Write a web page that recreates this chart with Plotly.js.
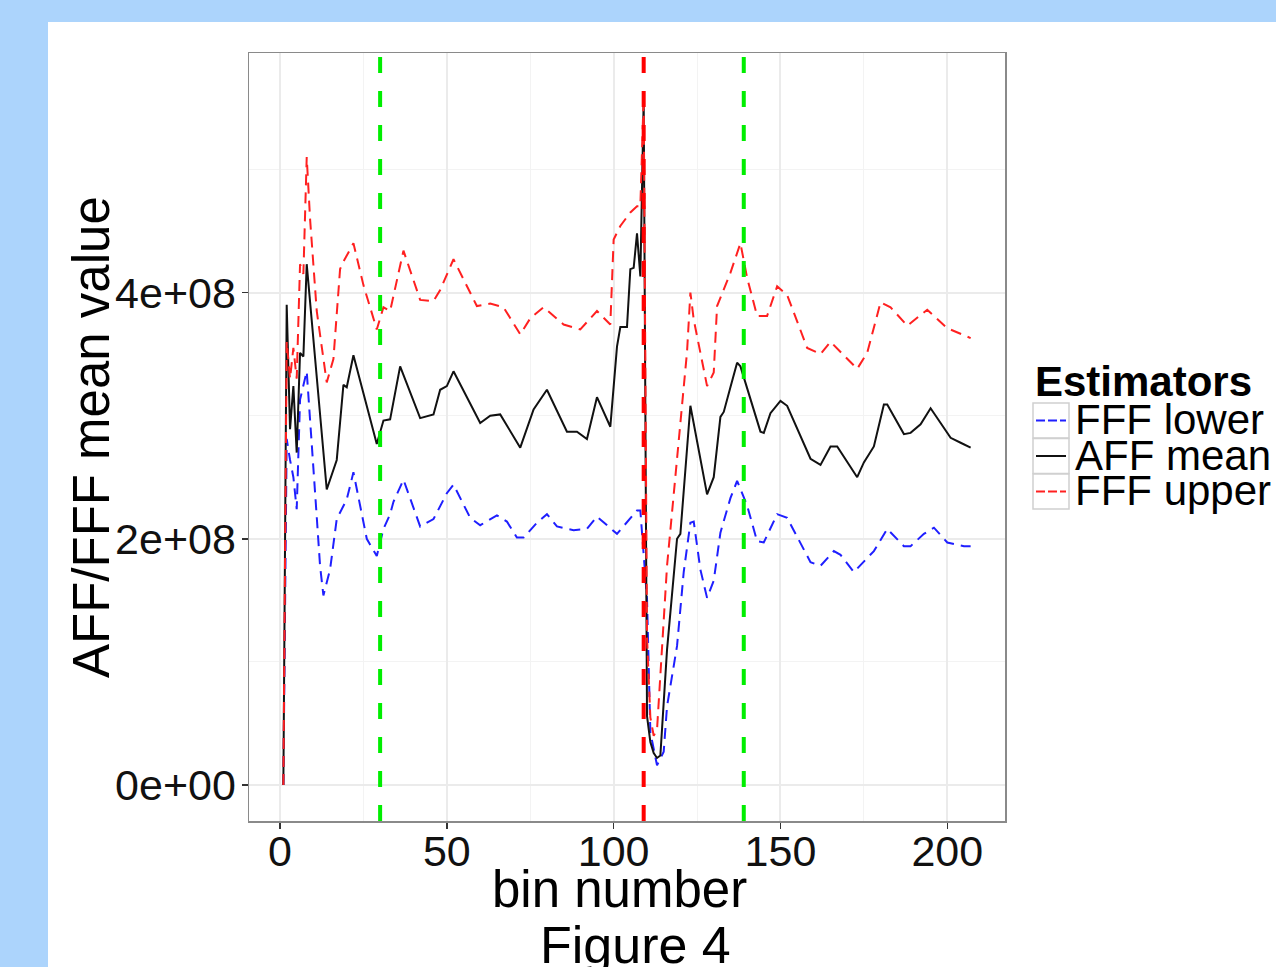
<!DOCTYPE html>
<html><head><meta charset="utf-8">
<script src="https://cdn.plot.ly/plotly-3.0.1.min.js"></script>
<style>
html,body{margin:0;padding:0;background:#acd4fc;width:1276px;height:967px;overflow:hidden}
#chart{position:absolute;left:48px;top:22px;width:1228px;height:945px;background:#fff}
</style></head><body><div id="chart"></div>
<script>
// ---- data ----
const meanBins = [1,2,3,4,5,6,7,8,14,17,19,20,22,29,31,33,36,42,46,48,50,52,60,63,66,72,76,80,86,89,92,95,99,101,102,104,105,106,107,108,109,110,111,112,113,114,116,119,120,123,128,130,132,133,135,137,138,144,145,147,150,152,159,162,165,167,173,175,178,181,182,187,189,192,195,201,204,207];
const meanVals = [0,3.90e8,2.89e8,3.24e8,2.70e8,3.51e8,3.48e8,4.23e8,2.40e8,2.64e8,3.25e8,3.23e8,3.49e8,2.77e8,2.96e8,2.97e8,3.40e8,2.98e8,3.01e8,3.21e8,3.24e8,3.36e8,2.94e8,3.00e8,3.01e8,2.74e8,3.05e8,3.21e8,2.87e8,2.87e8,2.81e8,3.15e8,2.91e8,3.56e8,3.72e8,3.72e8,4.19e8,4.20e8,4.48e8,4.13e8,5.57e8,0.56e8,0.35e8,0.26e8,0.22e8,0.24e8,1.10e8,2.00e8,2.04e8,3.08e8,2.36e8,2.50e8,2.99e8,3.03e8,3.23e8,3.43e8,3.40e8,2.87e8,2.86e8,3.02e8,3.12e8,3.08e8,2.65e8,2.60e8,2.75e8,2.75e8,2.50e8,2.62e8,2.75e8,3.09e8,3.09e8,2.85e8,2.86e8,2.93e8,3.06e8,2.82e8,2.78e8,2.74e8];

const upperBins = [1,2,3,4,5,6,7,8,9,11,14,16,18,19,22,25,29,31,33,37,42,46,48,50,52,59,63,67,72,75,79,85,90,95,99,100,102,105,107,108,109,110,111,112,113,116,119,121,122,123,124,128,130,131,135,138,140,143,146,149,152,158,162,165,173,176,180,183,188,194,200,207];
const upperVals = [0,3.60e8,3.30e8,3.55e8,3.30e8,4.23e8,4.15e8,5.10e8,4.60e8,3.85e8,3.27e8,3.46e8,4.19e8,4.25e8,4.40e8,4.06e8,3.70e8,3.88e8,3.85e8,4.34e8,3.94e8,3.93e8,4.02e8,4.14e8,4.27e8,3.89e8,3.91e8,3.88e8,3.66e8,3.79e8,3.88e8,3.74e8,3.70e8,3.85e8,3.74e8,4.43e8,4.54e8,4.65e8,4.70e8,4.70e8,5.60e8,1.20e8,0.55e8,0.40e8,0.45e8,1.78e8,2.62e8,3.19e8,3.52e8,4.00e8,3.78e8,3.24e8,3.35e8,3.89e8,4.16e8,4.40e8,4.12e8,3.81e8,3.81e8,4.05e8,3.98e8,3.55e8,3.50e8,3.60e8,3.38e8,3.51e8,3.92e8,3.88e8,3.73e8,3.86e8,3.71e8,3.63e8];

const lowerBins = [1,2,3,4,5,6,8,9,11,12,13,15,17,20,22,24,26,29,31,33,34,37,42,46,48,50,52,57,60,65,68,71,73,77,80,83,88,92,95,99,101,107,108,110,111,113,115,116,119,121,123,124,126,128,130,132,135,137,140,143,145,149,152,159,162,166,168,172,178,182,187,189,193,196,200,205,207];
const lowerVals = [0,2.81e8,2.64e8,2.50e8,2.24e8,3.13e8,3.36e8,2.94e8,2.18e8,1.78e8,1.54e8,1.75e8,2.16e8,2.32e8,2.54e8,2.27e8,2.00e8,1.86e8,2.08e8,2.20e8,2.30e8,2.48e8,2.10e8,2.16e8,2.27e8,2.37e8,2.44e8,2.17e8,2.11e8,2.19e8,2.14e8,2.01e8,2.01e8,2.13e8,2.20e8,2.10e8,2.07e8,2.08e8,2.18e8,2.09e8,2.04e8,2.23e8,2.23e8,1.51e8,0.43e8,0.16e8,0.27e8,0.64e8,1.13e8,1.73e8,2.13e8,2.14e8,1.75e8,1.52e8,1.66e8,2.05e8,2.33e8,2.47e8,2.27e8,1.98e8,1.97e8,2.20e8,2.17e8,1.81e8,1.78e8,1.90e8,1.87e8,1.73e8,1.90e8,2.08e8,1.94e8,1.94e8,2.04e8,2.09e8,1.97e8,1.94e8,1.94e8];

const seriesNames = ["FFF lower","AFF mean","FFF upper"];
const seriesColors = ["#1f1fff","#111111","#ff2020"];
const greenLines = [30,139];
const redLines = [109];
const xTickVals = [0,50,100,150,200];
const yTickVals = [0,2e8,4e8];
const yTickText = ["0e+00","2e+08","4e+08"];
const xTitle = "bin number";
const yTitle = "AFF/FFF mean value";
const legendTitle = "Estimators";
const caption = "Figure 4";

// ---- layout helpers (page pixel -> paper coords) ----
const PL=249, PR=1005, PT=53, PB=821;
const px = X => (X-PL)/(PR-PL);
const py = Y => (PB-Y)/(PB-PT);
const FONT = "Liberation Sans, Arial, sans-serif";

const traces = [
  {x:lowerBins, y:lowerVals, name:seriesNames[0], mode:"lines", line:{color:seriesColors[0], width:2, dash:"11px,7px"}, showlegend:false},
  {x:meanBins, y:meanVals, name:seriesNames[1], mode:"lines", line:{color:seriesColors[1], width:2}, showlegend:false},
  {x:upperBins, y:upperVals, name:seriesNames[2], mode:"lines", line:{color:seriesColors[2], width:2, dash:"11px,7px"}, showlegend:false}
];

const shapes = [];
greenLines.forEach(v => shapes.push({type:"line", xref:"x", yref:"paper", x0:v, x1:v, y0:0, y1:1, line:{color:"#00ee00", width:4, dash:"16px,18px"}}));
redLines.forEach(v => shapes.push({type:"line", xref:"x", yref:"paper", x0:v, x1:v, y0:0, y1:1, line:{color:"#ff0000", width:4, dash:"16px,18px"}}));

// manual legend (ggplot style keys)
const rowTop = [403, 438.5, 474];
const rowH = 35;
const annotations = [];
annotations.push({xref:"paper", yref:"paper", x:px(1033), y:py(381), xanchor:"left", yanchor:"middle", showarrow:false, text:"<b>"+legendTitle+"</b>", font:{family:FONT, size:42, color:"#000"}});
seriesNames.forEach((n,i) => {
  const yc = rowTop[i] + rowH/2;
  shapes.push({type:"rect", xref:"paper", yref:"paper", x0:px(1033), x1:px(1069), y0:py(rowTop[i]), y1:py(rowTop[i]+rowH), line:{color:"#d0d0d0", width:1.5}, fillcolor:"#ffffff"});
  shapes.push({type:"line", xref:"paper", yref:"paper", x0:px(1036), x1:px(1066), y0:py(yc), y1:py(yc), line:{color:seriesColors[i], width:2, dash: i===1 ? "solid" : "9px,3px"}});
  annotations.push({xref:"paper", yref:"paper", x:px(1073), y:py(yc-1), xanchor:"left", yanchor:"middle", showarrow:false, text:n, font:{family:FONT, size:42, color:"#000"}});
});
// axis titles and caption
annotations.push({xref:"paper", yref:"paper", x:px(619), y:py(889), xanchor:"center", yanchor:"middle", showarrow:false, text:xTitle, font:{family:FONT, size:51, color:"#000"}});
annotations.push({xref:"paper", yref:"paper", x:px(91), y:py(437), xanchor:"center", yanchor:"middle", textangle:-90, showarrow:false, text:yTitle, font:{family:FONT, size:51, color:"#000"}});
annotations.push({xref:"paper", yref:"paper", x:px(635), y:py(945), xanchor:"center", yanchor:"middle", showarrow:false, text:caption, font:{family:FONT, size:52, color:"#000"}});

const layout = {
  width:1228, height:945,
  margin:{l:PL-48, r:1276-PR, t:PT-22, b:967-PB},
  paper_bgcolor:"#ffffff", plot_bgcolor:"#ffffff",
  font:{family:FONT, color:"#000"},
  showlegend:false,
  xaxis:{range:[-9.3,217.3], tickvals:xTickVals, ticktext:xTickVals.map(String), ticks:"outside", ticklen:6, tickwidth:1.5, tickcolor:"#333",
    tickfont:{size:43, color:"#111"}, showgrid:true, gridcolor:"#ebebeb", gridwidth:2, zeroline:false, ticklabelstandoff:-14,
    minor:{dtick:25, tick0:0, showgrid:true, gridcolor:"#f3f3f3", gridwidth:1, ticks:""},
    showline:true, mirror:true, linecolor:"#8a8a8a", linewidth:1.5, automargin:false},
  yaxis:{range:[-2.92e7,5.945e8], tickvals:yTickVals, ticktext:yTickText, ticks:"outside", ticklen:6, tickwidth:1.5, tickcolor:"#333",
    tickfont:{size:43, color:"#111"}, showgrid:true, gridcolor:"#ebebeb", gridwidth:2, zeroline:false,
    minor:{dtick:1e8, tick0:0, showgrid:true, gridcolor:"#f3f3f3", gridwidth:1, ticks:""},
    showline:true, mirror:true, linecolor:"#8a8a8a", linewidth:1.5, ticklabelstandoff:-3, automargin:false},
  shapes:shapes, annotations:annotations
};
Plotly.newPlot("chart", traces, layout, {displayModeBar:false, staticPlot:true});
</script></body></html>
